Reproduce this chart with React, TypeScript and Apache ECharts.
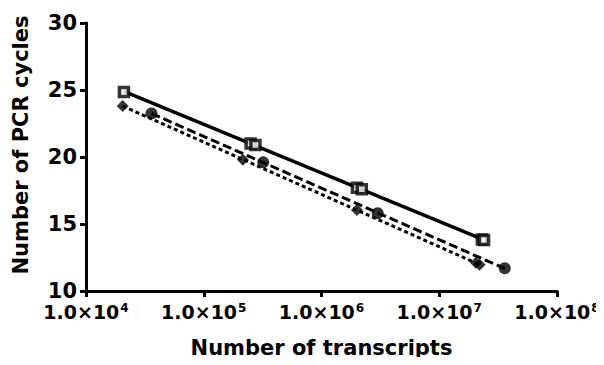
import React, { useEffect, useRef } from "react";
import * as echarts from "echarts";

const squareX = [2.1e4, 2.5e5, 2.75e5, 2.0e6, 2.2e6, 2.3e7, 2.4e7];
const squareY = [24.85, 21.0, 20.9, 17.7, 17.6, 13.85, 13.8];
const diamondX = [2.05e4, 2.15e5, 2.0e6, 2.05e7, 2.2e7];
const diamondY = [23.8, 19.8, 16.05, 12.1, 11.95];
const circleX = [3.6e4, 3.2e5, 3.0e6, 3.6e7];
const circleY = [23.25, 19.6, 15.8, 11.7];

const yTicks = { min: 10, max: 30, interval: 5 };
const xRange = { min: 1e4, max: 1e8 };

function fitLine(xs: number[], ys: number[]) {
  const lx = xs.map((v) => Math.log10(v));
  const n = lx.length;
  const mx = lx.reduce((a, b) => a + b, 0) / n;
  const my = ys.reduce((a, b) => a + b, 0) / n;
  let sxy = 0,
    sxx = 0;
  for (let i = 0; i < n; i++) {
    sxy += (lx[i] - mx) * (ys[i] - my);
    sxx += (lx[i] - mx) * (lx[i] - mx);
  }
  const b = sxy / sxx;
  const a = my - b * mx;
  const x0 = Math.min(...xs);
  const x1 = Math.max(...xs);
  return [
    [x0, a + b * Math.log10(x0)],
    [x1, a + b * Math.log10(x1)],
  ];
}

const pairs = (xs: number[], ys: number[]) => xs.map((x, i) => [x, ys[i]]);

export default function App() {
  const ref = useRef<HTMLDivElement>(null);
  useEffect(() => {
    if (!ref.current) return;
    const chart = echarts.init(ref.current, null, { renderer: "svg" });
    const font = "'DejaVu Sans', sans-serif";
    chart.setOption({
      animation: false,
      backgroundColor: "#ffffff",
      grid: { left: 86, right: 47, top: 23, bottom: 74 },
      xAxis: {
        type: "log",
        logBase: 10,
        min: xRange.min,
        max: xRange.max,
        name: "Number of transcripts",
        nameLocation: "middle",
        nameGap: 46,
        nameTextStyle: { fontFamily: font, fontWeight: "bold", fontSize: 21, color: "#000" },
        axisLine: { lineStyle: { color: "#000", width: 3 } },
        axisTick: { length: 6, lineStyle: { color: "#000", width: 3 } },
        minorTick: { show: false },
        splitLine: { show: false },
        axisLabel: {
          margin: 11,
          formatter: (v: number) => `{a|1.0×10}{b|${Math.round(Math.log10(v))}}`,
          rich: {
            a: { fontFamily: font, fontWeight: "bold", fontSize: 19, lineHeight: 18, color: "#000" },
            b: { fontFamily: font, fontWeight: "bold", fontSize: 12, color: "#000", verticalAlign: "top", padding: [0, 0, 8, 1] },
          },
        },
      },
      yAxis: {
        type: "value",
        min: yTicks.min,
        max: yTicks.max,
        interval: yTicks.interval,
        name: "Number of PCR cycles",
        nameLocation: "middle",
        nameGap: 55,
        nameTextStyle: { fontFamily: font, fontWeight: "bold", fontSize: 21, color: "#000", padding: [0, 0, 0, 24] },
        axisLine: { show: true, lineStyle: { color: "#000", width: 3 } },
        axisTick: { show: true, length: 6, lineStyle: { color: "#000", width: 3 } },
        splitLine: { show: false },
        axisLabel: { margin: 9, fontFamily: font, fontWeight: "bold", fontSize: 21, lineHeight: 16, color: "#000" },
      },
      series: [
        {
          type: "line",
          data: fitLine(squareX, squareY),
          showSymbol: false,
          lineStyle: { color: "#000", width: 3.5 },
          z: 1,
        },
        {
          type: "line",
          data: fitLine(diamondX, diamondY),
          showSymbol: false,
          lineStyle: { color: "#000", width: 3, type: [4, 3] },
          z: 1,
        },
        {
          type: "line",
          data: fitLine(circleX, circleY),
          showSymbol: false,
          lineStyle: { color: "#000", width: 3, type: [9, 4] },
          z: 1,
        },
        {
          type: "scatter",
          data: pairs(squareX, squareY),
          symbol: "rect",
          symbolSize: 9,
          itemStyle: { color: "#fff", borderColor: "#000", borderWidth: 3.5 },
          z: 3,
        },
        {
          type: "scatter",
          data: pairs(diamondX, diamondY),
          symbol: "diamond",
          symbolSize: 12,
          itemStyle: { color: "#000" },
          z: 3,
        },
        {
          type: "scatter",
          data: pairs(circleX, circleY),
          symbol: "circle",
          symbolSize: 12,
          itemStyle: { color: "#000" },
          z: 3,
        },
      ],
    });
    return () => chart.dispose();
  }, []);
  return <div ref={ref} style={{ width: 604, height: 365, margin: -8 }} />;
}
